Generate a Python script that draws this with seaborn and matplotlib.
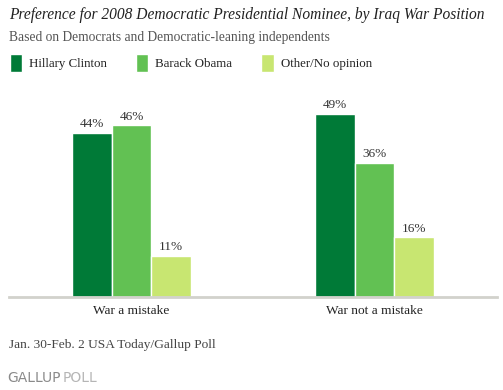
import matplotlib
matplotlib.use("Agg")
import matplotlib.pyplot as plt
import pandas as pd
import seaborn as sns

categories = ["War a mistake", "War not a mistake"]
candidates = ["Hillary Clinton", "Barack Obama", "Other/No opinion"]
clinton = [44, 49]
obama = [46, 36]
other = [11, 16]
colors = ["#007A37", "#62C153", "#C8E671"]

df = pd.DataFrame({
    "position": categories * 3,
    "candidate": [c for c in candidates for _ in categories],
    "pct": clinton + obama + other,
})

sns.set_theme(style="white")
plt.rcParams["font.family"] = ["Liberation Serif", "DejaVu Serif"]

fig = plt.figure(figsize=(5.03, 3.9), dpi=100)
ax = fig.add_axes([9 / 503, 93 / 390, 488 / 503, 186.5 / 390])

sns.barplot(data=df, x="position", y="pct", hue="candidate", order=categories,
            hue_order=candidates, palette=colors, width=0.49, saturation=1,
            ax=ax, legend=True)
ax.set_xlim(-0.504, 1.504)
ax.set_ylim(0, 50)

for cont in ax.containers:
    ax.bar_label(cont, labels=[f"{v:.0f}%" for v in cont.datavalues],
                 padding=2, fontsize=9.5, color="#333333")

for s in ["top", "right", "left"]:
    ax.spines[s].set_visible(False)
ax.spines["bottom"].set_color("#D2D2CC")
ax.spines["bottom"].set_linewidth(2)
ax.set_yticks([])
ax.set_xlabel("")
ax.set_ylabel("")
ax.tick_params(axis="x", length=0, pad=6, labelsize=9.6, labelcolor="#222222")

handles, labels = ax.get_legend_handles_labels()
ax.get_legend().remove()
fig.legend(handles, labels, loc="center left", bbox_to_anchor=(10 / 503, 1 - 63 / 390),
           ncol=3, frameon=False, fontsize=9.3, handlelength=0.95, handleheight=1.7,
           handletextpad=0.54, columnspacing=2.25, borderpad=0, borderaxespad=0,
           labelcolor="#222222")

fig.text(9 / 503, 1 - 15 / 390, "Preference for 2008 Democratic Presidential Nominee, by Iraq War Position",
         fontsize=11.2, style="italic", color="#222222", va="center")
fig.text(9 / 503, 1 - 37 / 390, "Based on Democrats and Democratic-leaning independents",
         fontsize=9.75, color="#555555", va="center")
fig.text(9 / 503, 1 - 345 / 390, "Jan. 30-Feb. 2 USA Today/Gallup Poll",
         fontsize=9.6, color="#444444", va="center")
fig.text(7 / 503, 1 - 378 / 390, "GALLUP", family="DejaVu Sans", fontsize=10,
         color="#8A8A8A", va="center")
fig.text(63 / 503, 1 - 378 / 390, "POLL", family="DejaVu Sans", fontsize=10,
         color="#B5B5B5", va="center")

fig.savefig("out.png", dpi=100)
